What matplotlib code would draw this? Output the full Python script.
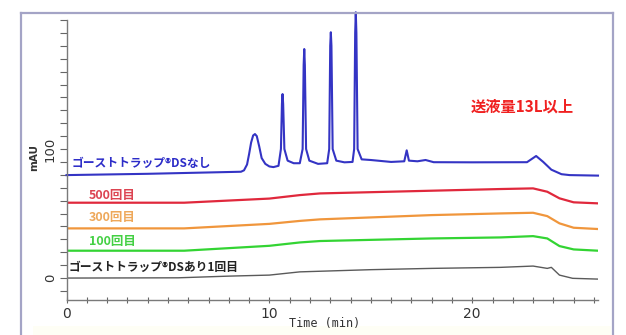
import matplotlib
matplotlib.use("Agg")
import matplotlib.pyplot as plt
from matplotlib.lines import Line2D
from matplotlib.patches import Rectangle

# ---------------- data ----------------
t_ds1 = [0, 5.5, 8.0, 10.0, 11.5, 15.0, 18.0, 21.4, 23.0, 23.7, 23.9, 24.3, 24.95, 26.2]
v_ds1 = [0, 0.2, 1.5, 2.3, 4.8, 6.5, 7.5, 8.3, 9.3, 7.5, 8.3, 2.3, -0.2, -0.8]

t_100 = [0, 5.8, 10.0, 11.5, 12.5, 18.0, 21.4, 23.0, 23.7, 24.3, 25.0, 26.2]
v_100 = [21.2, 21.2, 25.0, 27.6, 28.7, 30.7, 31.5, 32.5, 30.7, 24.8, 22.2, 21.2]

t_300 = [0, 5.8, 10.0, 11.5, 12.5, 18.0, 21.4, 23.0, 23.7, 24.3, 25.0, 26.2]
v_300 = [38.5, 38.5, 42.0, 44.3, 45.5, 48.8, 50.1, 50.6, 48.0, 42.4, 39.0, 38.0]

t_500 = [0, 5.8, 10.0, 11.5, 12.5, 18.0, 21.4, 23.0, 23.7, 24.3, 25.0, 26.2]
v_500 = [58.4, 58.4, 61.6, 64.3, 65.6, 67.7, 69.0, 69.5, 66.9, 61.8, 58.7, 57.9]

t_none = [0, 4.0, 8.6, 8.75, 8.9, 9.0, 9.1, 9.2, 9.29, 9.38, 9.5, 9.62, 9.8, 10.0, 10.2, 10.45,
          10.57, 10.62, 10.65, 10.68, 10.74, 10.9, 11.2, 11.5,
          11.64, 11.69, 11.72, 11.75, 11.81, 11.97, 12.4, 12.85,
          12.95, 13.0, 13.03, 13.06, 13.12, 13.3, 13.7, 14.1,
          14.18, 14.23, 14.26, 14.29, 14.35, 14.55, 15.0, 16.0,
          16.65, 16.77, 16.88, 17.3, 17.7, 18.1, 20.0, 22.7,
          23.15, 23.5, 23.9, 24.4, 24.8, 26.2]
v_none = [79.8, 80.8, 82.4, 83.5, 88, 96, 105, 110.5, 111.6, 110, 102, 93, 88.5, 86.5, 86, 87,
          100, 135, 142.6, 135, 100, 91, 89, 89,
          100, 165, 177.5, 165, 100, 91, 88.5, 89,
          100, 180, 190.5, 180, 100, 91, 89.7, 90,
          100, 190, 206, 190, 100, 92, 91.5, 90,
          90.5, 99, 91, 90.5, 91.5, 89.8, 89.7, 89.8,
          94.6, 90, 84, 80.5, 79.8, 79.4]

label_none = "ゴーストトラップ®DSなし"
label_500 = "500回目"
label_300 = "300回目"
label_100 = "100回目"
label_ds1 = "ゴーストトラップ®DSあり1回目"
note = "送液量13L以上"

x_major = [0, 10, 20]
x_minor = list(range(0, 27))
y_ticks = list(range(-10, 201, 10))
y_labeled = {0: "0", 100: "100"}

# ---------------- figure ----------------
W, H = 626, 335
fig = plt.figure(figsize=(W / 100, H / 100), dpi=100)
fig.patch.set_facecolor("white")

def fx(px):
    return px / W

def fy(py):
    return 1 - py / H

# outer frame
frame_c = "#a4a4c6"
fig.add_artist(Rectangle((fx(33), 0), fx(611) - fx(33), fy(326), transform=fig.transFigure,
                         facecolor="#fefef5", edgecolor="none", zorder=0))
fig.add_artist(Line2D([fx(21), fx(21)], [0, fy(13)], transform=fig.transFigure, color=frame_c, lw=1.6))
fig.add_artist(Line2D([fx(21), fx(613)], [fy(13), fy(13)], transform=fig.transFigure, color=frame_c, lw=1.6))
fig.add_artist(Line2D([fx(613), fx(613)], [0, fy(13)], transform=fig.transFigure, color=frame_c, lw=1.6))

ax = fig.add_axes([fx(66.5), fy(300), fx(598) - fx(66.5), fy(20) - fy(300)])
ax.set_facecolor("none")
ax.set_xlim(0, 26.2)
ax.set_ylim(-17, 200)

for s in ["top", "right"]:
    ax.spines[s].set_visible(False)
for s in ["left", "bottom"]:
    ax.spines[s].set_color("#7a7a7a")
    ax.spines[s].set_linewidth(1.0)

ax.set_xticks(x_major)
ax.set_xticks(x_minor, minor=True)
ax.tick_params(axis="x", which="both", direction="inout", length=4, width=0.8, color="#666666",
               labelsize=10, labelcolor="#333333", pad=3)
ax.set_yticks(y_ticks)
ax.set_yticklabels([y_labeled.get(v, "") for v in y_ticks])
ax.tick_params(axis="y", which="major", direction="out", length=5, width=0.8, color="#666666",
               labelsize=9.5, labelcolor="#333333", pad=2)
for lbl in ax.get_yticklabels():
    lbl.set_rotation(90)
    lbl.set_va("center")

jp = ["Noto Sans CJK JP", "DejaVu Sans"]

ax.plot(t_ds1, v_ds1, color="#5a5a5a", lw=1.0)
ax.plot(t_100, v_100, color="#33d433", lw=1.6)
ax.plot(t_300, v_300, color="#f0963c", lw=1.6)
ax.plot(t_500, v_500, color="#e0283c", lw=1.6)
ax.plot(t_none, v_none, color="#3434c4", lw=1.5, clip_on=False)

def put(px, py, s, color, size, weight="bold"):
    fig.text(fx(px), fy(py), s, color=color, fontsize=size, fontweight=weight,
             family=jp, ha="left", va="center")

put(72, 163, label_none, "#2c2cc8", 8.5)
put(89, 195, label_500, "#dc4452", 9.0)
put(89, 218, label_300, "#eea85a", 9.0)
put(89, 241, label_100, "#44d044", 9.0)
put(69, 267, label_ds1, "#222222", 8.5)
put(471, 107, note, "#f02020", 11)

fig.text(fx(325), fy(323), "Time (min)", family="DejaVu Sans Mono", fontsize=8.5,
         color="#333333", ha="center", va="center")
fig.text(fx(34), fy(157), "mAU", family="DejaVu Sans", fontsize=7.5, fontweight="bold",
         color="#333333", ha="center", va="center", rotation=90)

fig.savefig("out.png", dpi=100)
